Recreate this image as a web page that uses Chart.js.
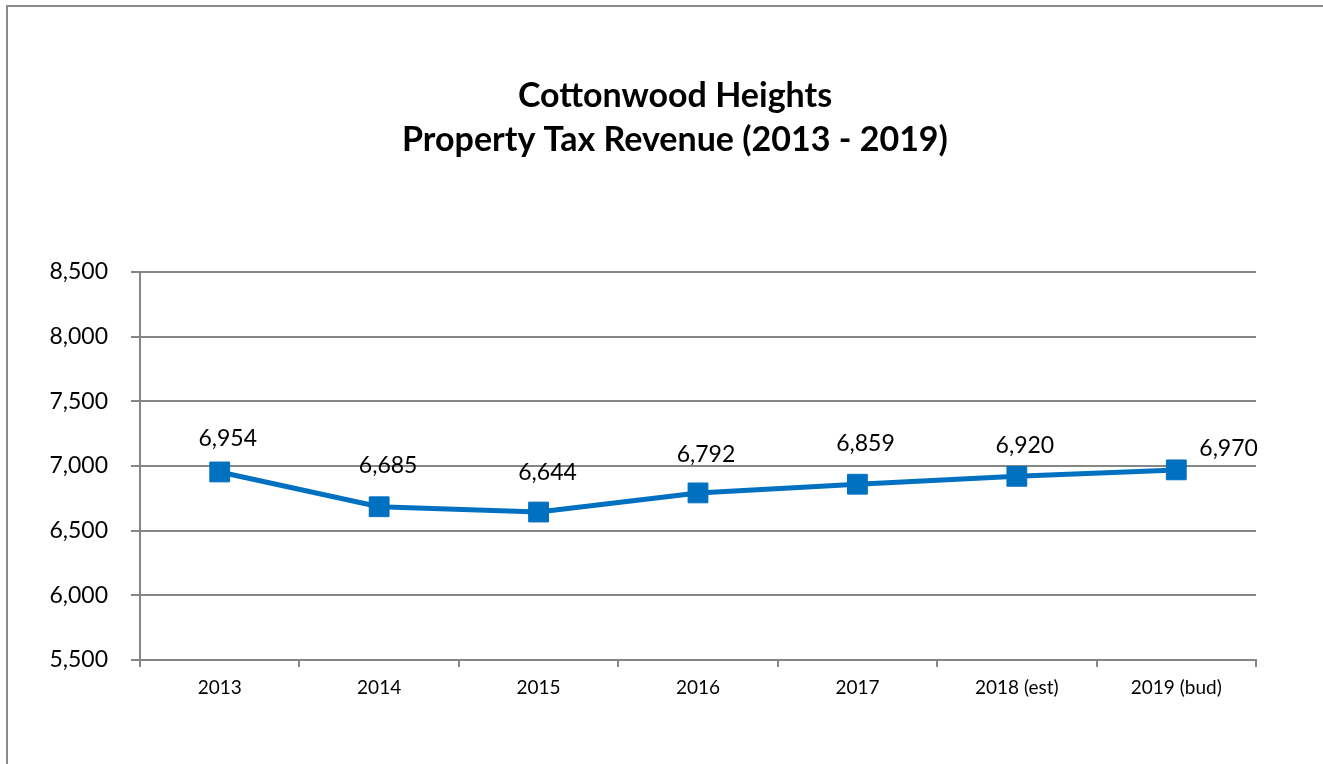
<!DOCTYPE html>
<html>
<head>
<meta charset="utf-8">
<script src="https://cdn.jsdelivr.net/npm/chart.js@4/dist/chart.umd.min.js"></script>
<style>
  html, body { margin: 0; padding: 0; background: #fff; overflow: hidden; }
  #wrap { position: relative; width: 1323px; height: 764px; }
  #frame {
    position: absolute; left: 6px; top: 5px; width: 1400px; height: 900px;
    border: 2px solid #8a8a8a; box-sizing: border-box;
  }
  #chart { position: absolute; left: 0; top: 0; }
</style>
</head>
<body>
<div id="wrap">
  <div id="frame"></div>
  <canvas id="chart" width="1323" height="764"></canvas>
</div>
<script>
// chart values
const years = ["2013", "2014", "2015", "2016", "2017", "2018 (est)", "2019 (bud)"];
const revenue = [6954, 6685, 6644, 6792, 6859, 6920, 6970];
const yTicks = [5500, 6000, 6500, 7000, 7500, 8000, 8500];
const titleLines = ["Cottonwood Heights", "Property Tax Revenue (2013 - 2019)"];

const fmt = (v) => v.toLocaleString("en-US");
const gray = "#868686";

Chart.defaults.font.family = "Lato, 'Open Sans', sans-serif";
Chart.defaults.color = "#000";

// title sits a bit right of the plot centre, like the original
const chartTitle = {
  id: "chartTitle",
  afterDraw(chart, args, opts) {
    const ctx = chart.ctx;
    ctx.save();
    ctx.font = "bold 34px Lato, sans-serif";
    ctx.fillStyle = "#000";
    ctx.textAlign = "center";
    ctx.textBaseline = "middle";
    titleLines.forEach((t, i) => ctx.fillText(t, opts.x, opts.y + i * opts.lineGap));
    ctx.restore();
  },
};

// value labels over the points, last one sits to the right
const pointLabels = {
  id: "pointLabels",
  afterDatasetsDraw(chart, args, opts) {
    const ctx = chart.ctx;
    const meta = chart.getDatasetMeta(0);
    ctx.save();
    ctx.font = "23px Lato, sans-serif";
    ctx.fillStyle = "#000";
    ctx.textBaseline = "middle";
    meta.data.forEach((pt, i) => {
      const off = opts.offsets[i];
      ctx.textAlign = off.align || "center";
      ctx.fillText(fmt(revenue[i]), pt.x + off.dx, pt.y - off.dy);
    });
    ctx.restore();
  },
};

new Chart(document.getElementById("chart"), {
  type: "line",
  data: {
    labels: years,
    datasets: [
      {
        data: revenue,
        borderColor: "#0070C0",
        backgroundColor: "#0070C0",
        borderWidth: 5,
        tension: 0,
        pointStyle: "rect",
        pointRadius: 14,
        pointBorderWidth: 1,
        pointBackgroundColor: "#0070C0",
        pointBorderColor: "#0070C0",
      },
    ],
  },
  plugins: [chartTitle, pointLabels],
  options: {
    responsive: false,
    animation: false,
    layout: { padding: { left: 0, right: 67, top: 272, bottom: 54 } },
    plugins: {
      legend: { display: false },
      tooltip: { enabled: false },
      title: { display: false },
      chartTitle: { x: 675, y: 96, lineGap: 44 },
      pointLabels: {
        offsets: [
          { dx: 8, dy: 33 },
          { dx: 9, dy: 41 },
          { dx: 9, dy: 39 },
          { dx: 8, dy: 38 },
          { dx: 8, dy: 41 },
          { dx: 8, dy: 31 },
          { dx: 23, dy: 21, align: "left" },
        ],
      },
    },
    scales: {
      x: {
        offset: true,
        grid: {
          offset: true,
          drawOnChartArea: false,
          drawTicks: true,
          tickLength: 7,
          color: gray,
          lineWidth: 2,
        },
        border: { display: true, color: gray, width: 2 },
        ticks: { font: { size: 19 }, padding: 9, maxRotation: 0 },
        afterFit(scale) { scale.height = 50; },
      },
      y: {
        min: yTicks[0],
        max: yTicks[yTicks.length - 1],
        afterBuildTicks(scale) { scale.ticks = yTicks.map((v) => ({ value: v })); },
        grid: { color: gray, lineWidth: 2, tickLength: 9 },
        border: { display: true, color: gray, width: 2 },
        ticks: { font: { size: 23 }, padding: 23, callback: (v) => fmt(v) },
        afterFit(scale) { scale.width = 140; },
      },
    },
  },
});
</script>
</body>
</html>
